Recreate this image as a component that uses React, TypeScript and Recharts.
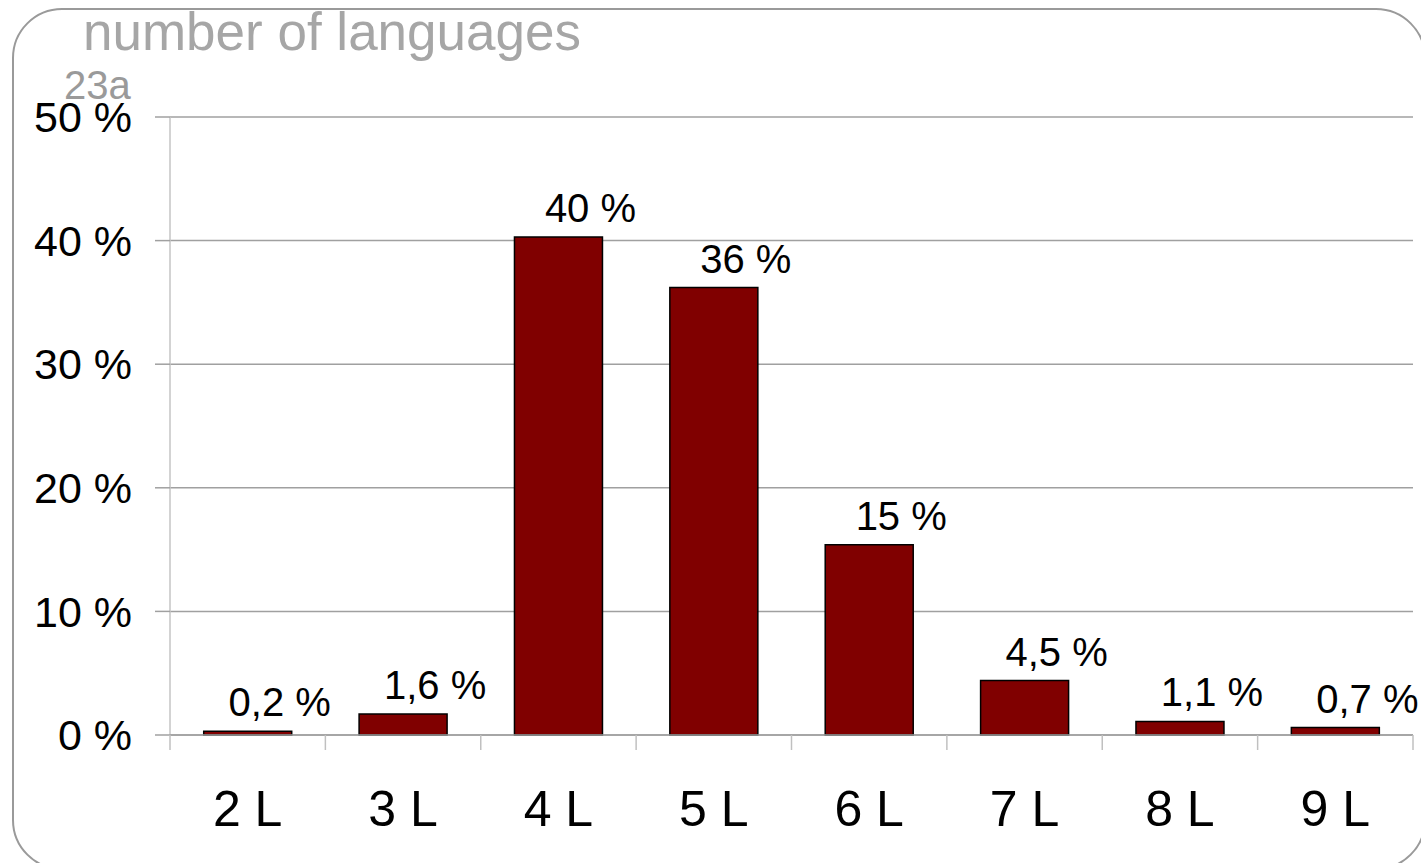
import React from 'react';
import { BarChart, Bar, XAxis, YAxis, CartesianGrid, LabelList } from 'recharts';

const categories = ['2 L', '3 L', '4 L', '5 L', '6 L', '7 L', '8 L', '9 L'];
const shares = [0.3, 1.7, 40.3, 36.2, 15.4, 4.4, 1.1, 0.6];
const shareLabels = ['0,2 %', '1,6 %', '40 %', '36 %', '15 %', '4,5 %', '1,1 %', '0,7 %'];
const yTicks = [0, 10, 20, 30, 40, 50];

const data = categories.map((name, i) => ({ name, value: shares[i], label: shareLabels[i] }));

const FONT = '"Liberation Sans", Arial, sans-serif';

function CategoryTick(props: any) {
  const { x, y, payload, index, width } = props;
  const half = payload?.offset || width / categories.length / 2;
  return (
    <g>
      <line x1={x - half} x2={x - half} y1={y} y2={y + 15} stroke="#c0c0c0" strokeWidth={1.5} />
      {index === categories.length - 1 && (
        <line x1={x + half} x2={x + half} y1={y} y2={y + 15} stroke="#c0c0c0" strokeWidth={1.5} />
      )}
      <text x={x} y={y} dy={91} textAnchor="middle" fontSize={50} fontFamily={FONT} fill="#000">
        {payload.value}
      </text>
    </g>
  );
}

// labels sit a bit right of the bar centre, like the original
function ValueLabel(props: any) {
  const { x, y, width, value } = props;
  return (
    <text x={x + width / 2 + 32} y={y - 15} textAnchor="middle" fontSize={40} fontFamily={FONT} fill="#000">
      {value}
    </text>
  );
}

export default function App() {
  return (
    <div style={{ position: 'fixed', left: 0, top: 0, width: 1421, height: 863, overflow: 'hidden', background: '#fff', fontFamily: FONT }}>
      <div
        style={{
          position: 'absolute',
          left: 12,
          top: 8,
          width: 1414,
          height: 862,
          border: '2px solid #9a9a9a',
          borderRadius: 50,
          boxSizing: 'border-box',
        }}
      />
      <div style={{ position: 'absolute', left: 83, top: 2, fontSize: 53, color: '#a6a6a6', lineHeight: '60px', whiteSpace: 'nowrap' }}>
        number of languages
      </div>
      <div style={{ position: 'absolute', left: 64, top: 62, fontSize: 40, color: '#9a9a9a', lineHeight: '46px', whiteSpace: 'nowrap' }}>
        23a
      </div>
      <div style={{ position: 'absolute', left: 0, top: 0 }}>
        <BarChart
          width={1421}
          height={863}
          data={data}
          margin={{ top: 117, right: 8, bottom: 0, left: 0 }}
          barCategoryGap="21.7%"
          style={{ overflow: 'visible' }}
        >
          <CartesianGrid horizontal vertical={false} stroke="#a0a0a0" strokeWidth={1.5} />
          <YAxis
            type="number"
            domain={[0, 50]}
            ticks={yTicks}
            interval={0}
            width={170}
            tickFormatter={(v: number) => `${v} %`}
            tick={{ fontSize: 43, fontFamily: FONT, fill: '#000' }}
            tickSize={15}
            tickMargin={23}
            tickLine={{ stroke: '#a0a0a0', strokeWidth: 1.5 }}
            axisLine={{ stroke: '#c4c4c4', strokeWidth: 1.5 }}
          />
          <XAxis
            dataKey="name"
            height={128}
            interval={0}
            tickSize={0}
            tickMargin={0}
            tickLine={false}
            axisLine={{ stroke: '#a0a0a0', strokeWidth: 1.5 }}
            tick={<CategoryTick />}
          />
          <Bar dataKey="value" fill="#800000" stroke="#000" strokeWidth={1.5} isAnimationActive={false}>
            <LabelList dataKey="label" content={<ValueLabel />} />
          </Bar>
        </BarChart>
      </div>
    </div>
  );
}
